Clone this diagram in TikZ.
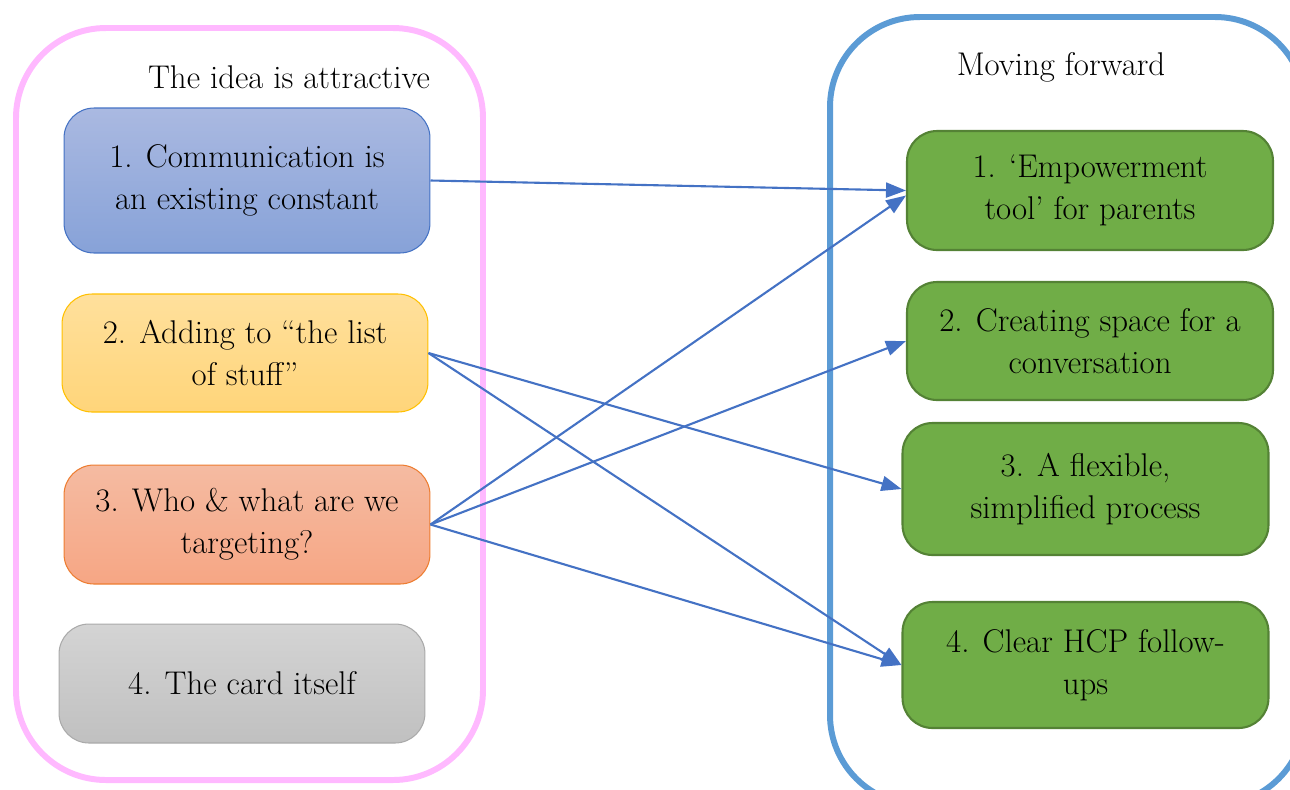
\documentclass[tikz,border=0pt]{standalone}
\usetikzlibrary{arrows.meta,shadings}

\definecolor{framepink}{RGB}{255,185,255}
\definecolor{frameblue}{RGB}{91,155,213}
\definecolor{linkblue}{RGB}{68,114,196}
\definecolor{leafgreen}{RGB}{112,173,71}
\definecolor{leafedge}{RGB}{84,130,53}

\tikzset{
  item/.style={draw, rounded corners=0.6cm, align=center, inner sep=0pt,
    minimum width=7.32cm, line width=0.6pt,
    font=\fontsize{18.7}{24}\selectfont},
  goal/.style={item, fill=leafgreen, draw=leafedge, line width=1.2pt},
  frame/.style={rounded corners=1.8cm, line width=3.4pt},
  link/.style={draw=linkblue, line width=1.2pt,
    -{Triangle[length=0.4cm,width=0.3cm]}},
  heading/.style={font=\fontsize{18.7}{24}\selectfont}
}

\begin{document}
\begin{tikzpicture}[x=0.02cm, y=-0.02cm]
\useasboundingbox (0,0) rectangle (1290,789);
\clip (0,0) rectangle (1290,789);

\draw[frame, framepink] (16,28) rectangle (483,780);
\draw[frame, frameblue] (830,17) rectangle (1305,805);

\node (T1) at (289,77) [heading] {The idea is attractive};
\node (T2) at (1061,67) [heading] {Moving forward};

\node (B1) at (247,180.5) [item, minimum height=2.9cm, draw=linkblue,
  top color={rgb,255:red,170;green,185;blue,225},
  bottom color={rgb,255:red,135;green,162;blue,216}]
  {1. Communication is\\an existing constant};
\node (B2) at (245,353) [item, minimum height=2.36cm, draw={rgb,255:red,255;green,192;blue,0},
  top color={rgb,255:red,255;green,224;blue,156},
  bottom color={rgb,255:red,255;green,213;blue,122}]
  {2. Adding to ``the list\\of stuff''};
\node (B3) at (247,524.5) [item, minimum height=2.38cm, draw={rgb,255:red,237;green,125;blue,49},
  top color={rgb,255:red,245;green,187;blue,162},
  bottom color={rgb,255:red,246;green,166;blue,132}]
  {3. Who \& what are we\\targeting?};
\node (B4) at (242,683.5) [item, minimum height=2.38cm, draw={rgb,255:red,170;green,170;blue,170},
  top color={rgb,255:red,212;green,212;blue,212},
  bottom color={rgb,255:red,192;green,192;blue,192}]
  {4. The card itself};

\node (G1) at (1090,190.5) [goal, minimum height=2.38cm] {1. `Empowerment\\tool' for parents};
\node (G2) at (1090,341) [goal, minimum height=2.36cm] {2. Creating space for a\\conversation};
\node (G3) at (1085.5,489) [goal, minimum height=2.64cm] {3. A flexible,\\simplified process};
\node (G4) at (1085.5,665) [goal, minimum height=2.52cm] {4. Clear HCP follow-\\ups};

\draw[link] (B1.east) to (G1.west);
\draw[link] (B2.east) to (G3.west);
\draw[link] (B2.east) to (G4.west);
\draw[link] (B3.east) to ([yshift=-0.1cm]G1.west);
\draw[link] (B3.east) to (G2.west);
\draw[link] (B3.east) to (G4.west);
\end{tikzpicture}
\end{document}
